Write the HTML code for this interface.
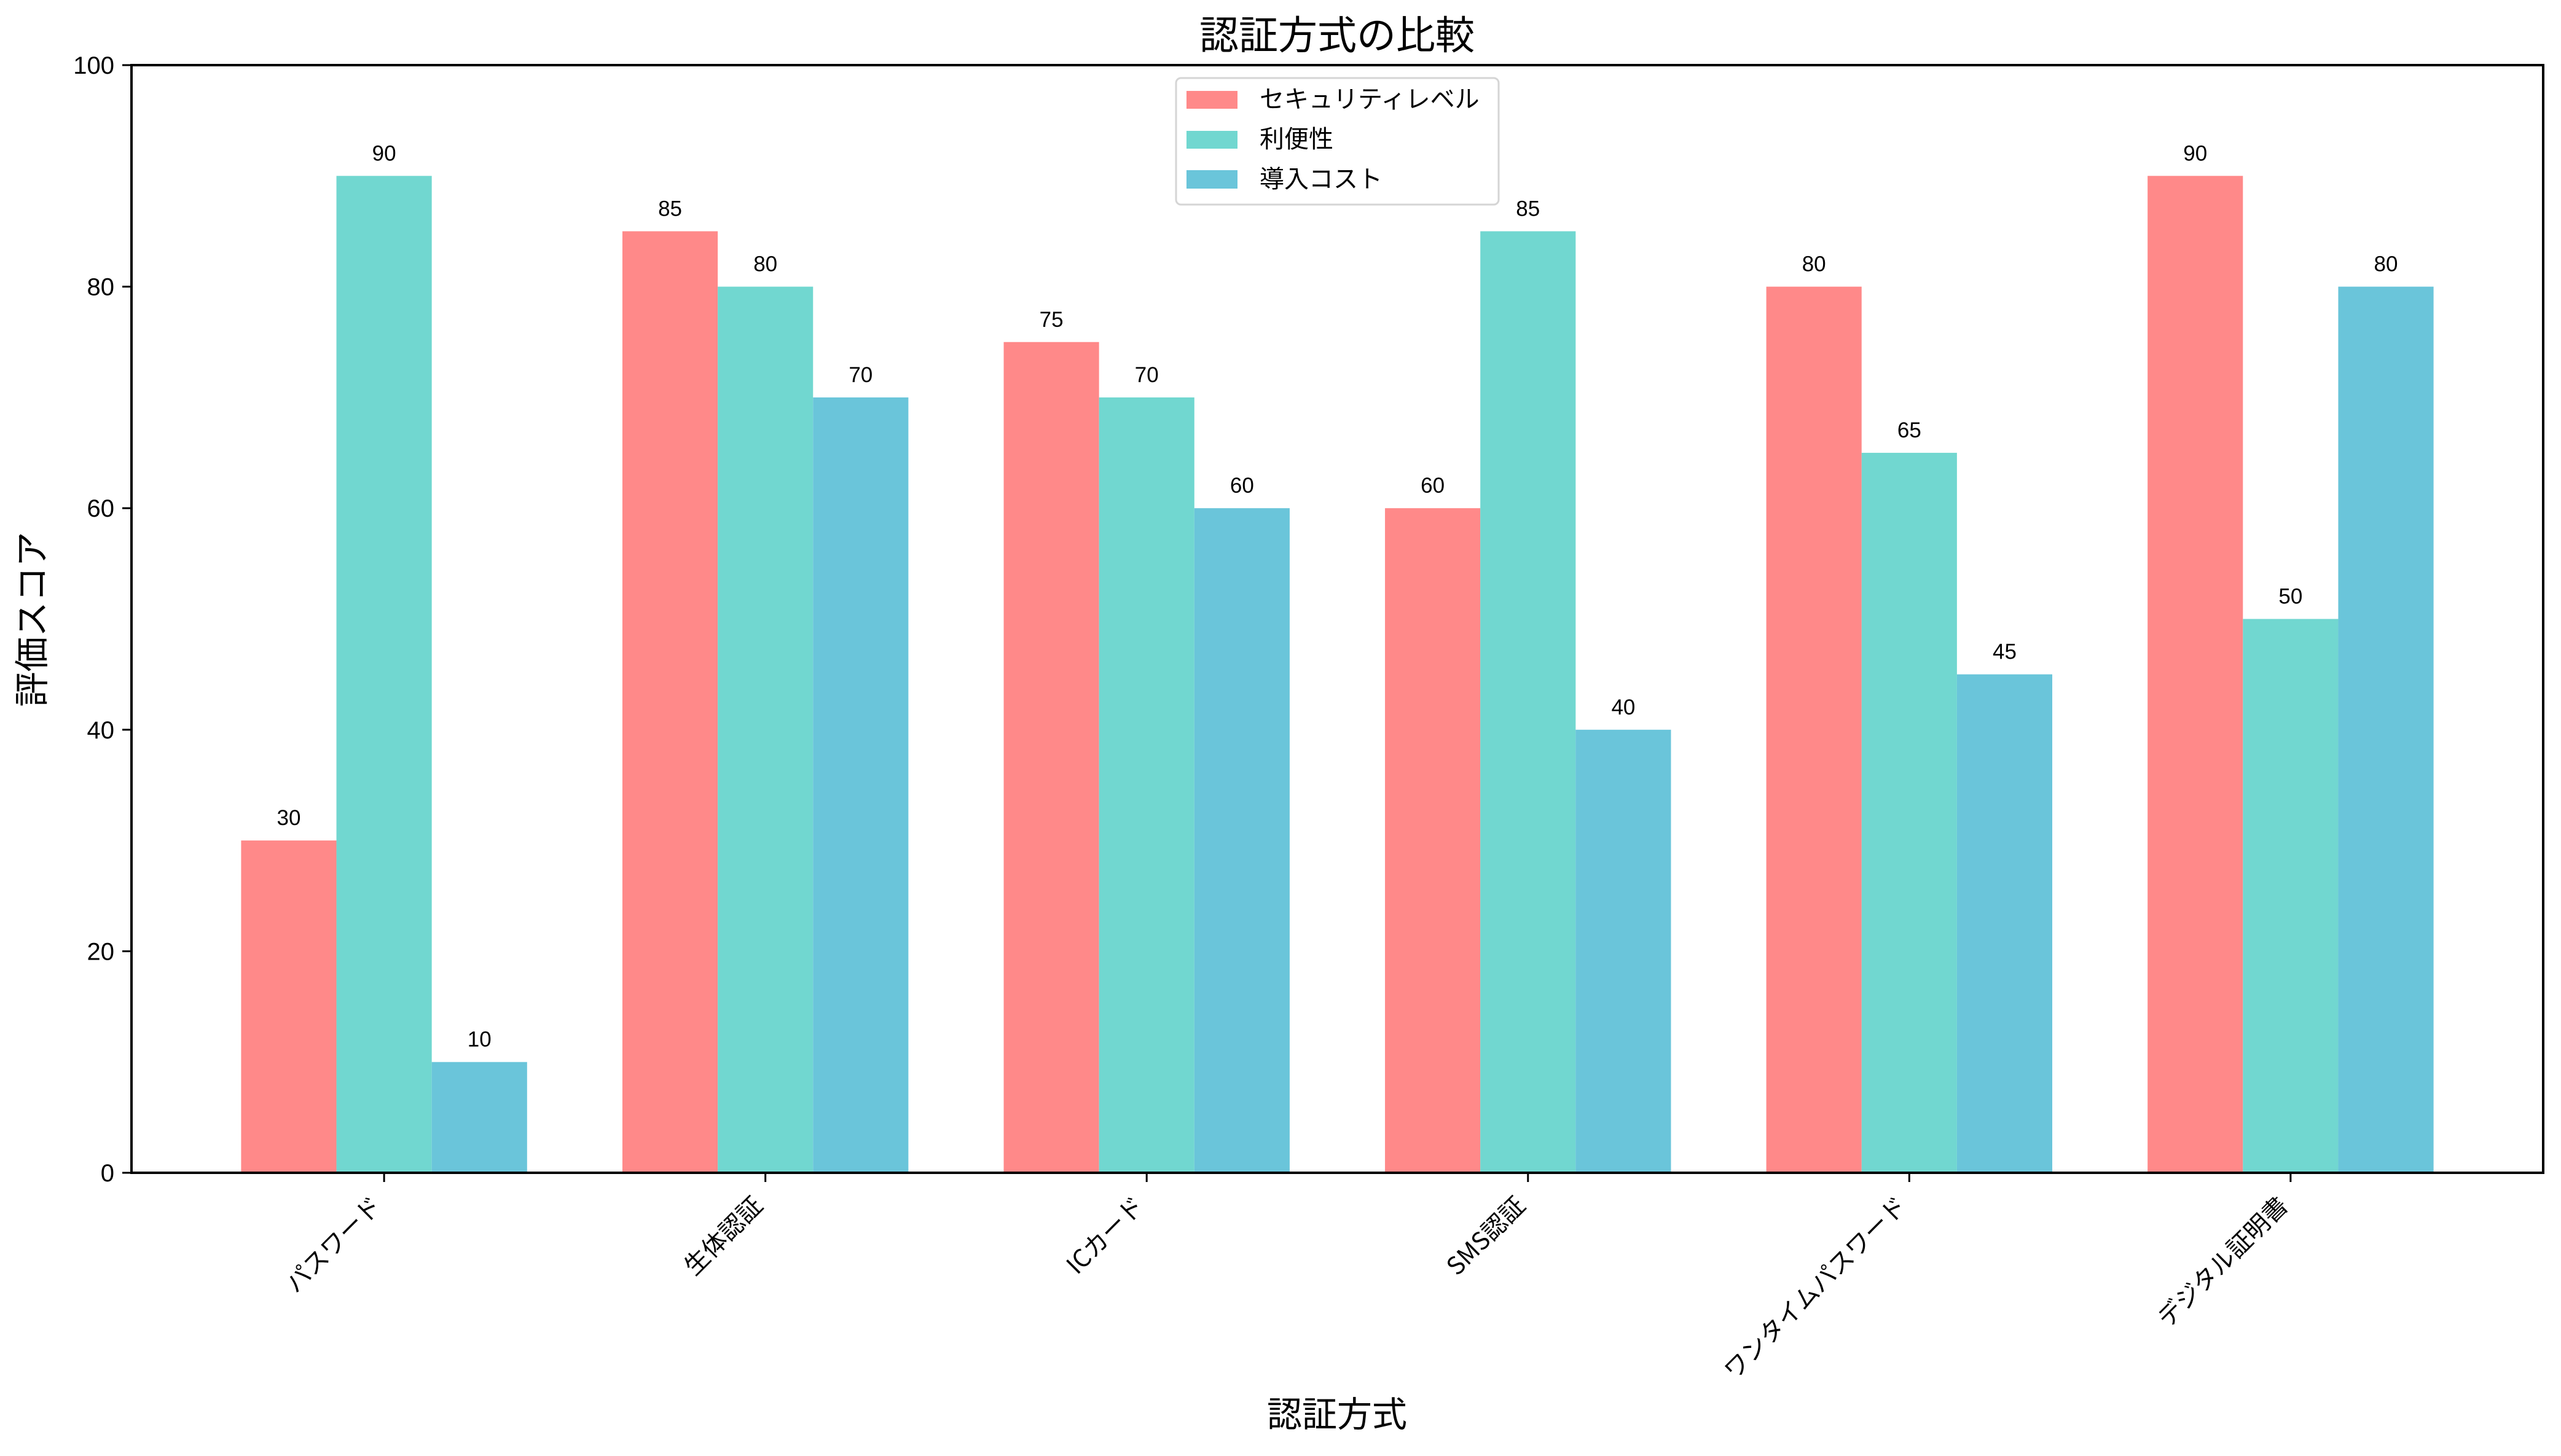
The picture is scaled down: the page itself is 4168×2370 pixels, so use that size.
<!DOCTYPE html>
<html><head><meta charset="utf-8"><style>
html,body{margin:0;padding:0;background:#fff;}
svg{display:block;font-family:"Liberation Sans","DejaVu Sans","Noto Sans CJK JP",sans-serif;}
</style></head><body>
<svg id="chart" width="4168" height="2370" viewBox="0 0 4168 2370" xmlns="http://www.w3.org/2000/svg">
<rect width="4168" height="2370" fill="#fff"/>
<text x="2176" y="80" font-size="64" text-anchor="middle" font-family="'Noto Sans CJK JP',sans-serif">認証方式の比較</text>
<g id="bars"></g>
<g id="labels"></g>
<g id="axes"></g>
<text x="2176" y="2322" font-size="57" text-anchor="middle" font-family="'Noto Sans CJK JP',sans-serif">認証方式</text>
<text transform="translate(72,1008) rotate(-90)" font-size="57" text-anchor="middle" font-family="'Noto Sans CJK JP',sans-serif">評価スコア</text>
<g>
<rect x="1914" y="127" width="525" height="206" rx="8" fill="#fff" fill-opacity="0.8" stroke="#d5d5d5" stroke-width="3"/>
<rect x="1931" y="148" width="83" height="29" fill="#FF8989"/>
<text x="2050" y="175" font-size="40" font-family="'Noto Sans CJK JP',sans-serif">セキュリティレベル</text>
<rect x="1931" y="213" width="83" height="29" fill="#71D7D0"/>
<text x="2050" y="240" font-size="40" font-family="'Noto Sans CJK JP',sans-serif">利便性</text>
<rect x="1931" y="277" width="83" height="30" fill="#6AC5DA"/>
<text x="2050" y="305" font-size="40" font-family="'Noto Sans CJK JP',sans-serif">導入コスト</text>
</g>
</svg>
<script>
const categories = ["パスワード","生体認証","ICカード","SMS認証","ワンタイムパスワード","デジタル証明書"];
const security = [30,85,75,60,80,90];
const convenience = [90,80,70,85,65,50];
const cost = [10,70,60,40,45,80];
const yTicks = [0,20,40,60,80,100];

const NS = "http://www.w3.org/2000/svg";
const L = 214, R = 4139, T = 106, B = 1909;
const xMin = -0.6625, xMax = categories.length - 1 + 0.6625;
const xs = v => L + (v - xMin) / (xMax - xMin) * (R - L);
const ys = v => B - v / 100 * (B - T);
const bw = 0.25;
function mk(tag, attrs, parent){const e=document.createElementNS(NS,tag);for(const k in attrs)e.setAttribute(k,attrs[k]);parent.appendChild(e);return e;}
const gB = document.getElementById('bars'), gL = document.getElementById('labels'), gA = document.getElementById('axes');
const series = [[security,'#FF8989','security',-bw],[convenience,'#71D7D0','convenience',0],[cost,'#6AC5DA','cost',bw]];
series.forEach(([vals,col,nm,off])=>{
  vals.forEach((v,i)=>{
    const x0 = xs(i+off-bw/2), x1 = xs(i+off+bw/2);
    const r = mk('rect',{x:x0,y:ys(v),width:x1-x0,height:ys(0)-ys(v),fill:col},gB);
    
    
    const t = mk('text',{x:(x0+x1)/2,y:ys(v)-25,'font-size':35,'text-anchor':'middle'},gL);
    t.textContent = v;
    
    
  });
});
mk('rect',{x:L,y:T,width:R-L,height:B-T,fill:'none',stroke:'#000','stroke-width':4},gA);
yTicks.forEach(v=>{
  mk('line',{x1:L-15,x2:L,y1:ys(v),y2:ys(v),stroke:'#000','stroke-width':3},gA);
  const t = mk('text',{x:L-28,y:ys(v)+14,'font-size':40,'text-anchor':'end'},gA);
  t.textContent = v;
  
  
});
categories.forEach((c,i)=>{
  const x = xs(i);
  mk('line',{x1:x,x2:x,y1:B,y2:B+15,stroke:'#000','stroke-width':3},gA);
  const t = mk('text',{transform:`translate(${x-2},1965) rotate(-45)`,'font-size':40,'text-anchor':'end','font-family':"'Noto Sans CJK JP',sans-serif"},gA);
  t.textContent = c;
  
  
});
</script>
</body></html>
